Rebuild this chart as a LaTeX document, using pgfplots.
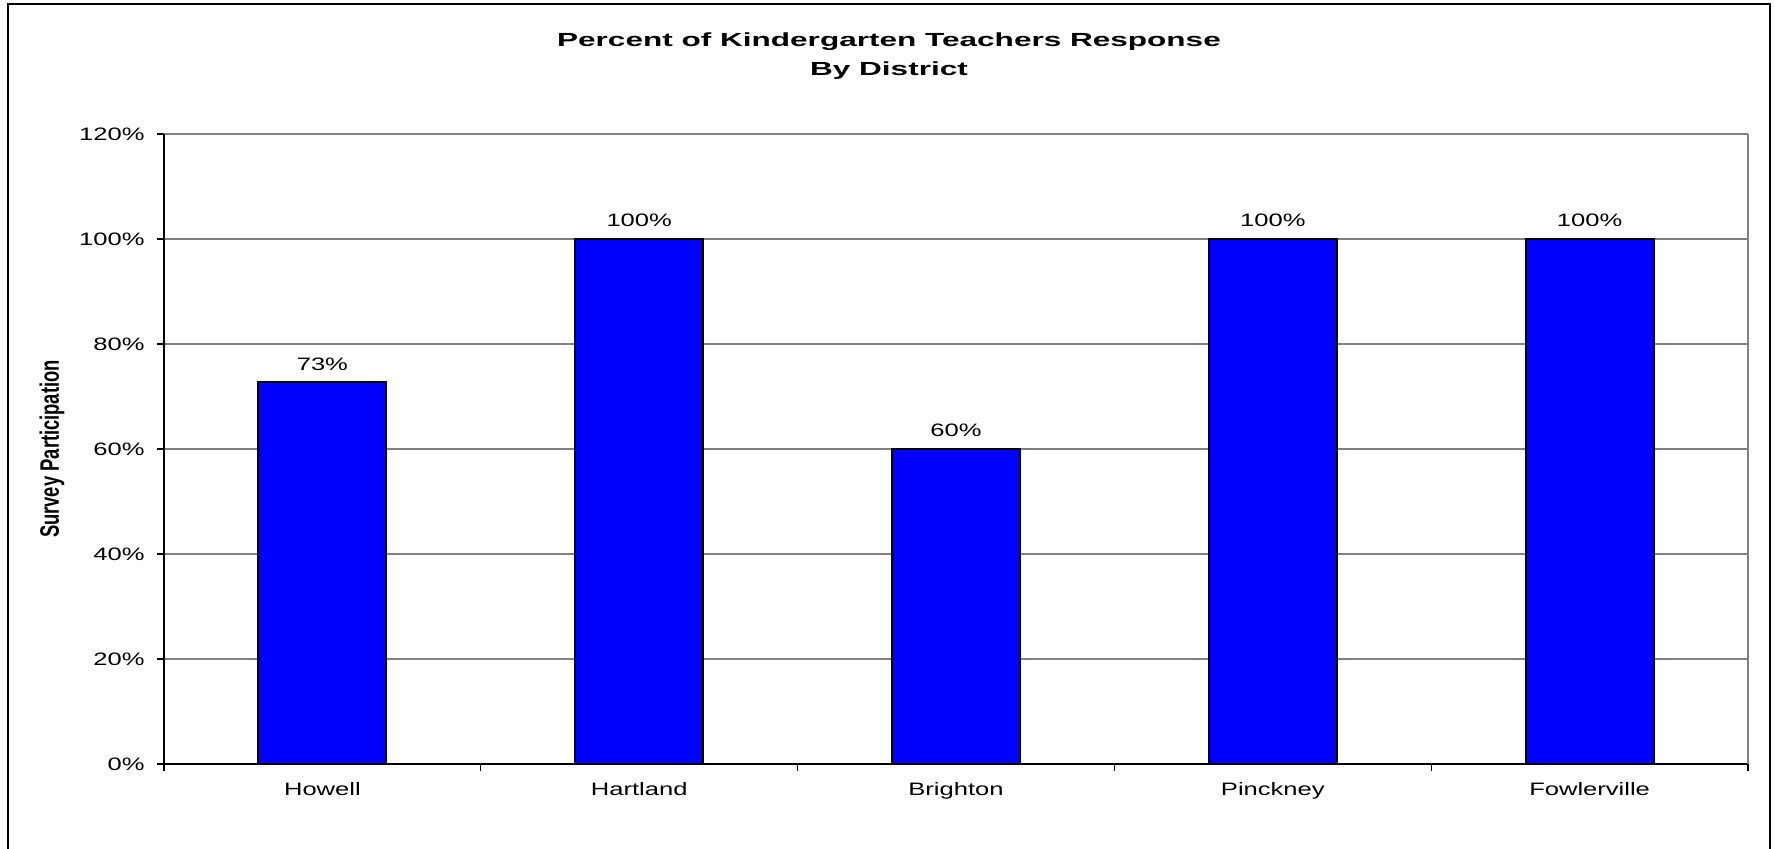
\documentclass[border=0pt]{standalone}
\usepackage{fontspec}
\setmainfont{Liberation Sans}[FakeStretch=1.42]
\newfontfamily\plainsans{Liberation Sans}
\newfontfamily\titlefont{Liberation Sans}[FakeStretch=1.66]
\usepackage{graphicx}
\usepackage{pgfplots}
\pgfplotsset{compat=1.18}
\definecolor{barblue}{RGB}{0,0,255}
\definecolor{gridgray}{RGB}{128,128,128}

\begin{document}
\begin{tikzpicture}
\useasboundingbox (0,0) rectangle (887.5pt,424.5pt);
\draw[line width=1pt, black] (4pt,-10pt) -- (4pt,422.5pt) -- (885pt,422.5pt) -- (885pt,-10pt);
\node[font=\titlefont\fontsize{9.5}{14.5}\selectfont\bfseries, align=center, anchor=base] at (444.5pt,386.5pt) {Percent of Kindergarten Teachers Response\\By District};
\node at (26pt,200pt) {\scalebox{1.45}[1]{\rotatebox{90}{\plainsans\fontsize{9.2}{11}\selectfont\bfseries Survey Participation}}};
\begin{axis}[
  at={(82pt,42.5pt)}, anchor=south west,
  scale only axis, width=792pt, height=315pt,
  xmin=-0.5, xmax=4.5, ymin=0, ymax=120,
  ytick={0,20,...,120},
  yticklabel={\pgfmathprintnumber{\tick}\%},
  xtick={0,1,2,3,4},
  xticklabels={Howell,Hartland,Brighton,Pinckney,Fowlerville},
  minor xtick={-0.5,0.5,1.5,2.5,3.5,4.5},
  major x tick style={draw=none},
  minor x tick style={black, line width=0.6pt},
  y tick style={black, line width=0.6pt},
  tick align=outside,
  major tick length=3.5pt, minor tick length=3.5pt,
  ymajorgrids, grid style={gridgray, line width=0.6pt},
  axis x line*=bottom, axis y line*=left,
  axis line style={black, line width=0.8pt},
  /pgf/number format/assume math mode=true,
  tick label style={font=\fontsize{9}{11}\selectfont},
  yticklabel style={inner sep=0pt, xshift=-6pt},
  xticklabel style={inner sep=0pt, yshift=-5.5pt},
  ybar, bar width=64pt,
  nodes near coords={\pgfmathprintnumber[fixed,precision=0]{\pgfplotspointmeta}\%},
  nodes near coords style={font=\fontsize{9}{11}\selectfont, inner sep=0pt, anchor=south, yshift=5.5pt},
  clip=false,
]
\addplot[fill=barblue, draw=black, line width=1pt] coordinates {(0,72.7) (1,100) (2,60) (3,100) (4,100)};
\draw[gridgray, line width=0.8pt] (rel axis cs:1,0) -- (rel axis cs:1,1);
\end{axis}
\end{tikzpicture}
\end{document}
